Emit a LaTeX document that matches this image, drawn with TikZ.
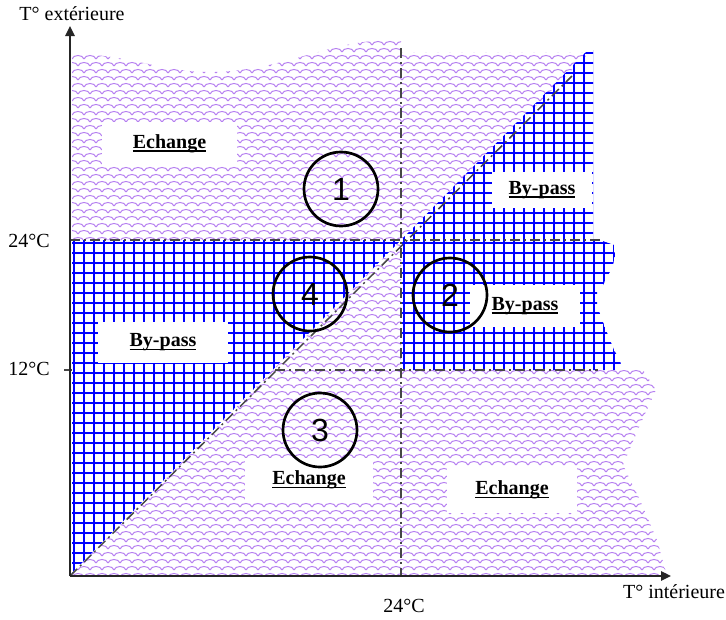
\documentclass[tikz,border=0pt]{standalone}
\usepackage{fontspec}
\setmainfont{Liberation Serif}
\newfontfamily\numfont{Liberation Sans}
\usepackage{tikz}
\usetikzlibrary{patterns}
\usetikzlibrary{arrows.meta}

\definecolor{scalepurple}{RGB}{182,128,240}
\definecolor{refgray}{RGB}{70,70,70}

\pgfdeclarepatternformonly{scales}{\pgfqpoint{-1pt}{-1pt}}{\pgfqpoint{14.5pt}{10pt}}{\pgfqpoint{9pt}{10.5pt}}{%
  \pgfsetlinewidth{0.75pt}
  \pgfpathmoveto{\pgfqpoint{0pt}{0pt}}
  \pgfpathcurveto{\pgfqpoint{1pt}{3.5pt}}{\pgfqpoint{8pt}{3.5pt}}{\pgfqpoint{9pt}{0pt}}
  \pgfpathmoveto{\pgfqpoint{4.5pt}{5.25pt}}
  \pgfpathcurveto{\pgfqpoint{5.5pt}{8.75pt}}{\pgfqpoint{12.5pt}{8.75pt}}{\pgfqpoint{13.5pt}{5.25pt}}
  \pgfusepath{stroke}}

\newsavebox\zonebox
\newcommand{\zonetext}[1]{\sbox\zonebox{\bfseries #1}\rlap{\rule[-2.6pt]{\wd\zonebox}{1.2pt}}\usebox\zonebox}

\begin{document}
\begin{tikzpicture}[x=0.75pt, y=-0.75pt,
    zone/.style={pattern=scales, pattern color=scalepurple},
    gridline/.style={blue, line width=0.9pt},
    tag/.style={fill=white, inner sep=0pt, font=\fontsize{15}{18}\selectfont},
    num/.style={circle, draw, line width=2pt, minimum size=55.5pt, inner sep=0pt, font=\numfont\fontsize{24}{28}\selectfont},
    refline/.style={refgray, line width=1.1pt, dash pattern=on 7.5pt off 3pt on 1.5pt off 3pt},
    axis/.style={black!85, line width=1.2pt, -{Triangle[length=7.5pt, width=7pt]}},
    axlabel/.style={inner sep=0pt, font=\fontsize{15}{18}\selectfont}]
    \useasboundingbox (0,0) rectangle (726,619);

    % Echange zones
    \fill[zone] (72,240) -- (72,53) .. controls (140,57) and (165,73) .. (215,72)
        .. controls (285,70) and (330,40) .. (392,40) -- (401,40) -- (401,52)
        -- (590,52) -- (401,240) -- cycle;
    \fill[zone] (70,576) -- (401,240) -- (401,370) -- (643,370) -- (656,390)
        -- (640,425) -- (623,465) -- (640,500) -- (657,540) -- (667,576) -- cycle;

    % By-pass zones
    \begin{scope}
        \clip (72,240) -- (401,240) -- (72,573) -- cycle
            (401,240) -- (588,50) -- (593,50) -- (593,240) -- (600,240) -- (614,245)
            -- (615,256) -- (612,268) -- (603,285) -- (597,292) -- (597,305)
            -- (602,320) -- (608,335) -- (614,350) -- (620,360) -- (622,370)
            -- (401,370) -- cycle;
        \foreach \gx in {74,84,...,624} \draw[gridline] (\gx,40) -- (\gx,580);
        \foreach \gy in {53,63,...,573} \draw[gridline] (60,\gy) -- (630,\gy);
    \end{scope}

    % Zone labels
    \node[tag, minimum width=101.25pt, minimum height=32.25pt] (ech1) at (169.5,143.5) {\zonetext{Echange}};
    \node[tag, minimum width=75pt, minimum height=27pt] (byp1) at (542,190) {\zonetext{By-pass}};
    \node[tag, minimum width=82.5pt, minimum height=31.5pt] (byp2) at (525,306) {\zonetext{By-pass}};
    \node[tag, minimum width=97.5pt, minimum height=30.75pt] (byp4) at (163,342.5) {\zonetext{By-pass}};
    \node[tag, minimum width=96pt, minimum height=33pt] (ech3) at (309,480) {\zonetext{Echange}};
    \node[tag, minimum width=97.5pt, minimum height=34.5pt] (ech5) at (512,490) {\zonetext{Echange}};

    % Reference lines
    \coordinate (O) at (70,576);
    \coordinate (ytip) at (70,26);
    \coordinate (xtip) at (671,576);
    \coordinate (h24a) at (70,240);
    \coordinate (h24b) at (600,240);
    \coordinate (h12a) at (275,370);
    \coordinate (h12b) at (598,370);
    \coordinate (h12t) at (64,370);
    \coordinate (h12u) at (72,370);
    \coordinate (v24a) at (401,48);
    \coordinate (v24b) at (401,576);
    \coordinate (diag) at (572,76);
    \draw[refline] (h24a) -- (h24b);
    \draw[refline] (h12a) -- (h12b);
    \draw[refline] (h12t) -- (h12u);
    \draw[refline] (v24a) -- (v24b);
    \draw[refline] (O) -- (diag);

    % Axes
    \draw[axis] (O) -- (ytip);
    \draw[axis] (O) -- (xtip);

    % Zone numbers
    \node[num] (z1) at (341,189) {1};
    \node[num] (z2) at (450,295) {2};
    \node[num] (z3) at (320,430) {3};
    \node[num] (z4) at (310,294) {4};

    % Axis labels
    \node[axlabel] (ylab) at (72,14) {T° extérieure};
    \node[axlabel] (xlab) at (674,592) {T° intérieure};
    \node[axlabel] (y24) at (29,241) {24°C};
    \node[axlabel] (y12) at (29,369) {12°C};
    \node[axlabel] (x24) at (404,606) {24°C};
\end{tikzpicture}
\end{document}
